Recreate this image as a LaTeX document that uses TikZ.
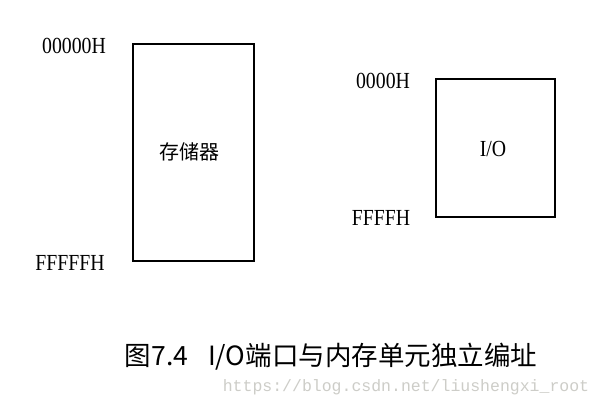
\documentclass[tikz,border=0pt]{standalone}
\usepackage{fontspec}
\setmainfont{Liberation Serif}
\newfontfamily\cjk{Noto Sans CJK SC}
\newfontfamily\wmfont{Liberation Mono}
\definecolor{wmgray}{RGB}{205,205,200}
\begin{document}
\begin{tikzpicture}[x=1pt,y=-1pt,
  membox/.style={draw=black,line width=1.8pt},
  addr/.style={inner sep=0pt,font=\fontsize{23}{23}\selectfont},
  inlabel/.style={inner sep=0pt,font=\fontsize{23}{23}\selectfont},
  caption/.style={inner sep=0pt,font=\cjk\fontsize{26.5}{27}\selectfont},
  watermark/.style={inner sep=0pt,text=wmgray,font=\wmfont\fontsize{16.5}{17}\selectfont}]
\path[use as bounding box,fill=white] (0,0) rectangle (603,409);
\draw[membox] (133,44) rectangle (254,261);
\draw[membox] (436,79) rectangle (555,217);
\node[addr] (a1) at (74,46) {\scalebox{0.86}[1]{00000H}};
\node[addr] (a2) at (70,263) {\scalebox{0.86}[1]{FFFFFH}};
\node[addr] (a3) at (383,81) {\scalebox{0.86}[1]{0000H}};
\node[addr] (a4) at (381,218) {\scalebox{0.86}[1]{FFFFH}};
\node[inlabel,font=\cjk\fontsize{20}{21}\selectfont] (mem) at (189,152) {存储器};
\node[inlabel] (io) at (493,149) {\scalebox{0.86}[1]{I/O}};
\node[caption] (cap) at (331,357) {图7.4\hspace{0.75em}I/O端口与内存单元独立编址};
\node[watermark] (wm) at (406,387) {https://blog.csdn.net/liushengxi\_root};
\end{tikzpicture}
\end{document}
